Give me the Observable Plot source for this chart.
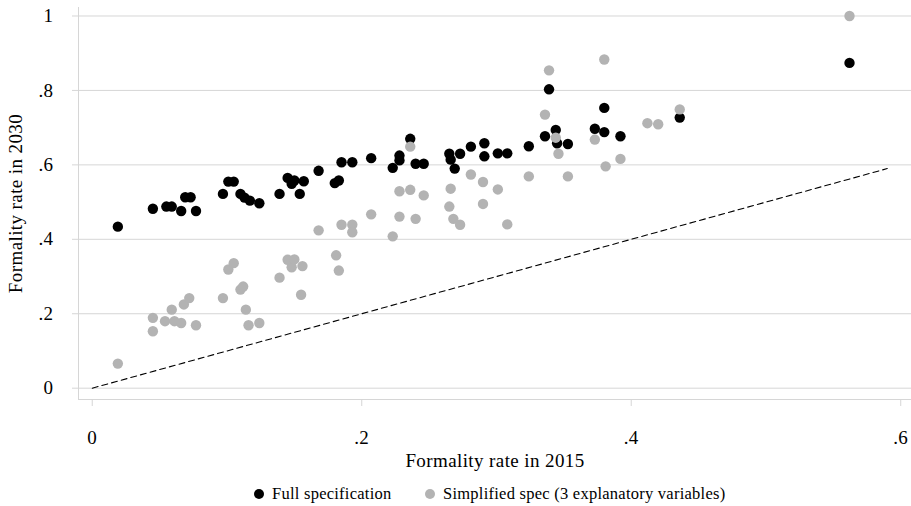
<!DOCTYPE html>
<html><head><meta charset="utf-8">
<script src="https://cdn.jsdelivr.net/npm/d3@7"></script>
<script src="https://cdn.jsdelivr.net/npm/@observablehq/plot@0.6"></script>
<style>
body{margin:0;background:#fff;font-family:"Liberation Serif",serif;}
#chart svg text{letter-spacing:0.4px;}
#legend{position:relative;height:24px;width:911px;font-size:16.5px;letter-spacing:0.25px;color:#000;}
#legend .dot{position:absolute;top:7px;width:10px;height:10px;border-radius:50%;}
#legend .lab{position:absolute;top:0;line-height:24px;white-space:nowrap;}
</style></head><body>
<div id="chart"></div>
<div id="legend"></div>
<script>
// Full specification (x = formality rate 2015, y = formality rate 2030)
const fullX = [0.019,0.045,0.055,0.059,0.066,0.069,0.073,0.077,0.097,0.101,0.105,0.110,0.113,0.117,0.124,0.139,0.145,0.148,0.150,0.157,0.154,0.168,0.180,0.183,0.185,0.193,0.207,0.223,0.228,0.228,0.236,0.240,0.246,0.265,0.266,0.269,0.273,0.281,0.291,0.291,0.301,0.308,0.324,0.339,0.336,0.344,0.345,0.353,0.373,0.380,0.380,0.392,0.436,0.562];
const fullY = [0.434,0.482,0.488,0.488,0.476,0.513,0.513,0.476,0.522,0.555,0.555,0.522,0.512,0.504,0.497,0.522,0.565,0.549,0.558,0.556,0.522,0.584,0.551,0.558,0.607,0.607,0.618,0.592,0.625,0.612,0.670,0.603,0.603,0.630,0.614,0.590,0.630,0.649,0.658,0.623,0.631,0.631,0.650,0.803,0.677,0.694,0.658,0.656,0.697,0.753,0.688,0.677,0.727,0.874];
// Simplified spec (3 explanatory variables)
const simpX = [0.019,0.045,0.045,0.054,0.059,0.061,0.066,0.068,0.072,0.077,0.097,0.101,0.105,0.110,0.112,0.114,0.116,0.124,0.139,0.145,0.148,0.150,0.156,0.155,0.168,0.181,0.183,0.185,0.193,0.193,0.207,0.223,0.228,0.228,0.236,0.236,0.240,0.246,0.266,0.265,0.268,0.273,0.281,0.290,0.290,0.301,0.308,0.324,0.339,0.336,0.344,0.346,0.353,0.373,0.380,0.381,0.392,0.412,0.420,0.436,0.562];
const simpY = [0.066,0.189,0.153,0.180,0.211,0.180,0.175,0.225,0.242,0.169,0.242,0.319,0.336,0.265,0.273,0.211,0.169,0.175,0.297,0.345,0.325,0.346,0.328,0.251,0.424,0.357,0.316,0.439,0.439,0.419,0.467,0.408,0.529,0.461,0.649,0.533,0.455,0.518,0.536,0.488,0.455,0.439,0.574,0.554,0.495,0.534,0.440,0.569,0.854,0.735,0.673,0.630,0.569,0.668,0.883,0.596,0.616,0.712,0.709,0.749,1.000];
// 45-degree reference line
const refX = [0, 0.59];
const refY = [0, 0.59];
const xTicks = [0, 0.2, 0.4, 0.6];
const yTicks = [0, 0.2, 0.4, 0.6, 0.8, 1];
const seriesLabels = ["Full specification", "Simplified spec (3 explanatory variables)"];
const seriesColors = ["#000000", "#b3b3b3"];
const xTitle = "Formality rate in 2015";
const yTitle = "Formality rate in 2030";

const gridColor = "#d6d6d6";
const fmt = d => d === 0 ? "0" : d === 1 ? "1" : d3.format(".1f")(d).replace(/^0/, "");
const full = fullX.map((x, i) => ({x, y: fullY[i]}));
const simp = simpX.map((x, i) => ({x, y: simpY[i]}));
const ref = refX.map((x, i) => ({x, y: refY[i]}));
const xDomain = [-0.0102, 0.608];
const yDomain = [-0.0304, 1.0228];

const chart = Plot.plot({
  width: 911, height: 482,
  marginLeft: 78, marginRight: 0, marginTop: 7, marginBottom: 83,
  x: {domain: xDomain},
  y: {domain: yDomain},
  style: {fontFamily: "Liberation Serif, serif", fontSize: "19px", color: "black", background: "white", overflow: "visible"},
  marks: [
    Plot.gridY(yTicks, {stroke: gridColor, strokeOpacity: 1, strokeWidth: 1}),
    Plot.ruleX([xDomain[0]], {stroke: gridColor, strokeWidth: 1}),
    Plot.ruleY([yDomain[0]], {stroke: gridColor, strokeWidth: 1}),
    Plot.axisY({ticks: yTicks, tickSize: 6, tickPadding: 19, tickFormat: fmt, stroke: gridColor, strokeOpacity: 1, fill: "black", label: null}),
    Plot.axisX({ticks: xTicks, tickSize: 7, tickPadding: 24, tickFormat: fmt, stroke: gridColor, strokeOpacity: 1, fill: "black", label: null}),
    Plot.line(ref, {x: "x", y: "y", stroke: "black", strokeWidth: 1.1, strokeDasharray: "6,4"}),
    Plot.dot(full, {x: "x", y: "y", r: 5.2, fill: seriesColors[0], stroke: null}),
    Plot.dot(simp, {x: "x", y: "y", r: 5.2, fill: seriesColors[1], stroke: null}),
    Plot.text([xTitle], {frameAnchor: "bottom", dy: 67, text: d => d, fill: "black", fontSize: 19}),
    Plot.text([yTitle], {frameAnchor: "left", rotate: -90, dx: -63, textAnchor: "middle", text: d => d, fill: "black", fontSize: 19})
  ]
});
document.getElementById("chart").appendChild(chart);

const legend = document.getElementById("legend");
const dotLeft = [254, 424.5];
const labLeft = [272, 443];
seriesLabels.forEach((lab, i) => {
  const d = document.createElement("span");
  d.className = "dot"; d.style.left = dotLeft[i] + "px"; d.style.background = seriesColors[i];
  legend.appendChild(d);
  const t = document.createElement("span");
  t.className = "lab"; t.style.left = labLeft[i] + "px"; t.textContent = lab;
  legend.appendChild(t);
});
</script>
</body></html>
